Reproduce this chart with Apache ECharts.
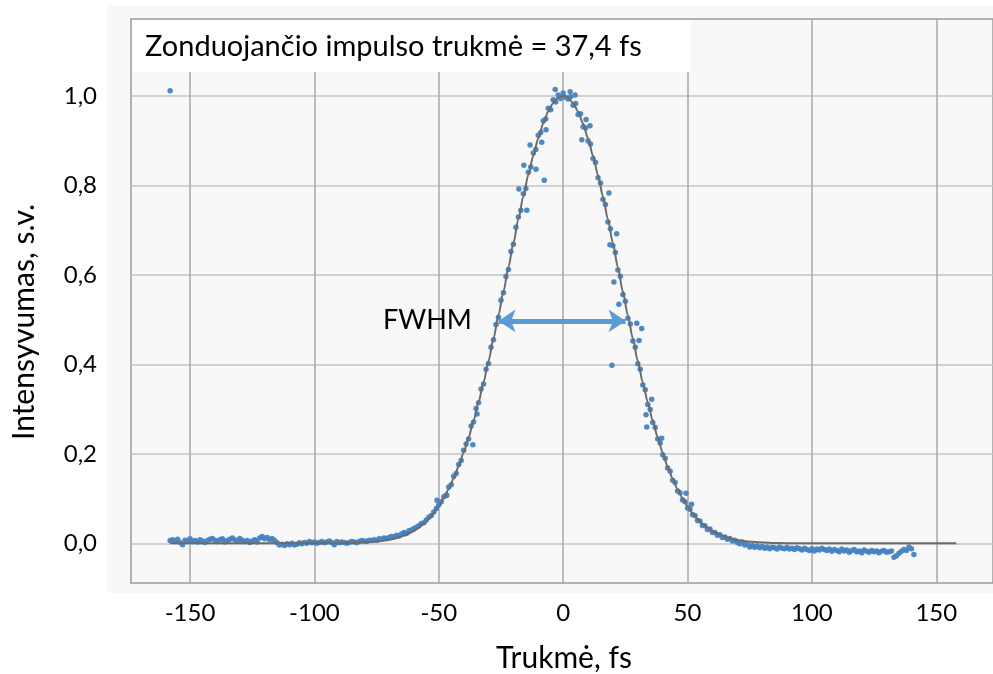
<!DOCTYPE html>
<html>
<head>
<meta charset="utf-8">
<script src="https://cdn.jsdelivr.net/npm/echarts@6/dist/echarts.min.js"></script>
<style>html,body{margin:0;padding:0;background:#fff;}#c{width:993px;height:674px;}</style>
</head>
<body>
<div id="c"></div>
<script>
// ---- data (delay fs, intensity a.u.) ----
const leftBaseline = [[-158,0.006],[-157,0.008],[-156,0.004],[-155,0.009],[-154,0.002],[-153,-0.003],[-152,0.007],[-151,0.005],[-150,0.010],[-149,0.004],[-148,0.006],[-147,0.003],[-146,0.008],[-145,0.005],[-144,0.002],[-143,0.006],[-142,0.009],[-141,0.011],[-140,0.007],[-139,0.004],[-138,0.008],[-137,0.010],[-136,0.003],[-135,0.006],[-134,0.009],[-133,0.012],[-132,0.008],[-131,0.005],[-130,0.011],[-129,0.007],[-128,0.004],[-127,0.006],[-126,0.002],[-125,0.005],[-124,0.008],[-123,0.003],[-122,0.012],[-121,0.015],[-120,0.010],[-119,0.013],[-118,0.008],[-117,0.011],[-116,0.006],[-115,0.001],[-114,-0.004],[-113,-0.002],[-112,-0.005],[-111,-0.001],[-110,-0.003],[-109,0.000],[-108,-0.004],[-107,-0.002],[-106,0.001],[-105,-0.001],[-104,0.002],[-103,0.000],[-102,0.004],[-101,0.001],[-100,0.003],[-99,0.000],[-98,0.002],[-97,0.004],[-96,0.001],[-95,0.003],[-94,0.005],[-93,0.002],[-92,-0.003],[-91,0.004],[-90,0.001],[-89,0.003],[-88,0.002],[-87,0.000],[-86,0.002],[-85,0.004],[-84,0.003],[-83,0.001],[-82,0.004],[-81,0.006]];
const risingEdge = [[-80,0.005],[-79,0.004],[-78,0.007],[-77,0.006],[-76,0.008],[-75,0.007],[-74,0.010],[-73,0.009],[-72,0.012],[-71,0.011],[-70,0.013],[-69,0.015],[-68,0.014],[-67,0.018],[-66,0.017],[-65,0.021],[-64,0.024],[-63,0.022],[-62,0.028],[-61,0.030],[-60,0.033],[-59,0.036],[-58,0.039],[-57,0.044],[-56,0.046],[-55,0.052],[-54,0.058],[-53,0.062],[-52,0.070],[-51,0.078],[-50,0.086],[-49,0.093],[-48,0.104],[-47,0.108],[-46,0.126],[-45,0.131],[-44,0.150],[-43,0.156],[-42,0.176],[-41,0.185],[-40,0.208],[-39,0.222],[-38,0.233],[-37,0.262],[-36,0.271],[-35,0.301],[-34,0.314],[-33,0.345],[-32,0.356],[-31,0.389],[-30,0.402],[-29,0.438],[-28,0.455],[-27,0.489],[-26,0.505],[-25,0.543],[-24,0.560],[-23,0.596],[-22,0.612],[-21,0.652],[-20,0.668],[-19,0.706]];
const peak = [[-18,0.729],[-17,0.744],[-16,0.781],[-15,0.793],[-14,0.829],[-13,0.841],[-12,0.872],[-11,0.880],[-10,0.912],[-9,0.918],[-8,0.944],[-7,0.948],[-6,0.972],[-5,0.969],[-4,0.991],[-3,0.986],[-2,1.002],[-1,0.994],[0,1.006],[1,0.997],[2,0.993],[3,0.998],[4,0.979],[5,0.983],[6,0.958],[7,0.960],[8,0.931],[9,0.928],[10,0.899],[11,0.892],[12,0.860],[13,0.851],[14,0.817],[15,0.805],[16,0.768],[17,0.757],[18,0.718]];
const fallingEdge = [[19,0.703],[20,0.665],[21,0.650],[22,0.611],[23,0.597],[24,0.556],[25,0.541],[26,0.503],[27,0.490],[28,0.452],[29,0.438],[30,0.401],[31,0.389],[32,0.354],[33,0.343],[34,0.310],[35,0.299],[36,0.270],[37,0.259],[38,0.233],[39,0.224],[40,0.198],[41,0.190],[42,0.168],[43,0.161],[44,0.141],[45,0.136],[46,0.117],[47,0.113],[48,0.097],[49,0.093],[50,0.079],[51,0.076],[52,0.064],[53,0.062],[54,0.051],[55,0.050],[56,0.040],[57,0.039],[58,0.031],[59,0.032],[60,0.024],[61,0.024],[62,0.018],[63,0.019],[64,0.013],[65,0.014],[66,0.009],[67,0.011],[68,0.005],[69,0.007]];
const rightBaseline = [[70,0.002],[71,-0.001],[72,0.003],[73,-0.004],[74,-0.002],[75,-0.008],[76,-0.005],[77,-0.009],[78,-0.006],[79,-0.010],[80,-0.007],[81,-0.011],[82,-0.008],[83,-0.012],[84,-0.009],[85,-0.010],[86,-0.013],[87,-0.008],[88,-0.011],[89,-0.012],[90,-0.009],[91,-0.013],[92,-0.011],[93,-0.014],[94,-0.010],[95,-0.012],[96,-0.015],[97,-0.011],[98,-0.014],[99,-0.016],[100,-0.012],[101,-0.017],[102,-0.013],[103,-0.015],[104,-0.011],[105,-0.014],[106,-0.016],[107,-0.013],[108,-0.018],[109,-0.014],[110,-0.016],[111,-0.019],[112,-0.013],[113,-0.017],[114,-0.015],[115,-0.020],[116,-0.016],[117,-0.014],[118,-0.019],[119,-0.017],[120,-0.021],[121,-0.015],[122,-0.018],[123,-0.020],[124,-0.016],[125,-0.019],[126,-0.017],[127,-0.021],[128,-0.018],[129,-0.016],[130,-0.020],[131,-0.019],[132,-0.017],[133,-0.031],[134,-0.028],[135,-0.022],[136,-0.018],[137,-0.014],[138,-0.016],[139,-0.008],[140,-0.012],[141,-0.025]];
const outliers = [[-158,1.011],[-17.8,0.792],[-15.8,0.845],[-14.6,0.744],[-13.3,0.890],[-10.9,0.836],[-8.6,0.896],[-7.6,0.811],[-6.9,0.924],[-3.2,1.014],[2.8,1.009],[4.8,1.002],[7.5,0.902],[9.2,0.947],[10.8,0.933],[18.4,0.783],[18.8,0.667],[19.6,0.398],[20.4,0.584],[21.5,0.692],[22.4,0.534],[29.6,0.492],[30.5,0.453],[31.6,0.480],[33.3,0.287],[33.6,0.260],[35.6,0.322],[39.6,0.235],[49.4,0.112],[51.6,0.087],[-36.3,0.220],[-34.6,0.289],[-50.7,0.096],[-46.8,0.107]];
const fitDelay = [-158,-120,-100,-90,-84,-78,-74,-70,-68,-66,-64,-62,-60,-58,-56,-54,-52,-50,-48,-46,-44,-42,-40,-38,-36,-34,-32,-30,-28,-26,-24,-22,-20,-18,-16,-14,-12,-10,-8,-6,-4,-2,0,2,4,6,8,10,12,14,16,18,20,22,24,26,28,30,32,34,36,38,40,42,44,46,48,50,52,54,56,58,60,62,64,66,68,70,74,78,84,90,100,120,158];
const fitValue = [0,0,0,0.0003,0.0009,0.0023,0.0043,0.0076,0.0100,0.0130,0.0169,0.0217,0.0277,0.0350,0.0439,0.0547,0.0676,0.0828,0.101,0.121,0.145,0.172,0.203,0.237,0.275,0.316,0.360,0.408,0.458,0.510,0.563,0.617,0.671,0.724,0.775,0.823,0.866,0.905,0.938,0.965,0.984,0.996,1.0,0.996,0.984,0.965,0.938,0.905,0.866,0.823,0.775,0.724,0.671,0.617,0.563,0.510,0.458,0.408,0.360,0.316,0.275,0.237,0.203,0.172,0.145,0.121,0.101,0.0828,0.0676,0.0547,0.0439,0.0350,0.0277,0.0217,0.0169,0.0130,0.0100,0.0076,0.0043,0.0023,0.0009,0.0003,0,0,0];
const xTicks = [-150,-100,-50,0,50,100,150];
const yTicks = [0,0.2,0.4,0.6,0.8,1.0];
const fwhmEnds = [-26.0, 25.1];
const fwhmLevel = 0.497;

const FONT = 'Lato';
const chart = echarts.init(document.getElementById('c'), null, {renderer:'canvas'});
const scatterData = [].concat(leftBaseline, risingEdge, peak, fallingEdge, rightBaseline, outliers);
const fitData = fitDelay.map((d,i)=>[d, fitValue[i]]);

chart.setOption({
  backgroundColor:'#ffffff',
  animation:false,
  grid:{left:131, top:19, right:0, bottom:91, show:true, backgroundColor:'#f8f8f8', borderColor:'#9a9a9a', borderWidth:1.5},
  xAxis:{type:'value', min:-173.73, max:172.8,
    axisLine:{show:false}, axisTick:{show:false, customValues:xTicks},
    axisLabel:{customValues:xTicks, fontFamily:FONT, fontSize:24, color:'#000', margin:18, formatter:v=>String(v)},
    splitLine:{show:true, lineStyle:{color:'#a8a8a8', width:1.5}}},
  yAxis:{type:'value', min:-0.0887, max:1.1716,
    axisLine:{show:false}, axisTick:{show:false, customValues:yTicks},
    axisLabel:{customValues:yTicks, fontFamily:FONT, fontSize:24, color:'#000', margin:34, formatter:v=>v.toFixed(1).replace('.',',')},
    splitLine:{show:true, lineStyle:{color:'#c4c4c4', width:1.5}}},
  series:[
    {type:'scatter', data:scatterData, symbolSize:5.5, itemStyle:{color:'#4683c1', opacity:0.95}, z:3},
    {type:'line', data:fitData, smooth:0.3, smoothMonotone:'x', showSymbol:false, symbol:'none',
      lineStyle:{color:'#6b6b6b', width:2}, z:4,
      markLine:{silent:true, symbol:['arrow','arrow'], symbolSize:[17,17], label:{show:false},
        lineStyle:{color:'#5b9bd5', width:5, type:'solid'},
        data:[[{coord:[fwhmEnds[0], fwhmLevel]},{coord:[fwhmEnds[1], fwhmLevel]}]]}}
  ],
  graphic:[
    {type:'rect', z:-100, silent:true, shape:{x:107,y:5,width:886,height:588}, style:{fill:'#f8f8f8'}},
    {type:'rect', z:100, silent:true, shape:{x:132,y:20,width:558,height:52}, style:{fill:'#ffffff'}},
    {type:'text', z:101, x:145, y:47, style:{text:'Zonduojančio impulso trukmė = 37,4 fs', font:'29px Lato', fill:'#000', verticalAlign:'middle'}},
    {type:'text', z:101, x:383, y:320, style:{text:'FWHM', font:'27px Lato', fill:'#000', verticalAlign:'middle'}},
    {type:'text', z:101, x:24, y:322, rotation:Math.PI/2, style:{text:'Intensyvumas, s.v.', font:'30px Lato', fill:'#000', align:'center', verticalAlign:'middle'}},
    {type:'text', z:101, x:564, y:658, style:{text:'Trukmė, fs', font:'30px Lato', fill:'#000', align:'center', verticalAlign:'middle'}}
  ]
});
</script>
</body>
</html>
